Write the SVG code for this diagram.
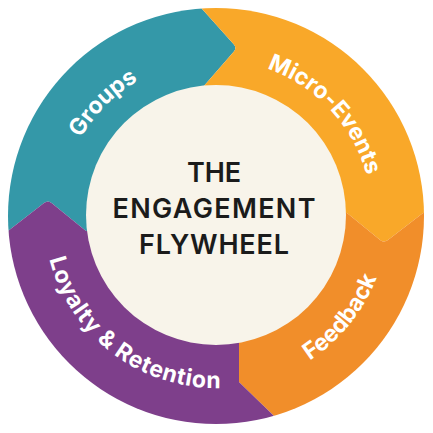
<svg xmlns="http://www.w3.org/2000/svg" xmlns:xlink="http://www.w3.org/1999/xlink" width="433" height="433" viewBox="0 0 433 433">
  <style>
    .seg-label { font-family: Inter, "Open Sans", "Liberation Sans", sans-serif; font-weight: 700; font-size: 23px; fill: #ffffff; }
    .title { font-family: Inter, "Open Sans", "Liberation Sans", sans-serif; font-weight: 600; font-size: 27px; fill: #1b1b1b; text-anchor: middle; }
  </style>
  <defs>
    <clipPath id="ring">
      <circle cx="216" cy="216" r="208"/>
    </clipPath>
    <path id="p-groups" d="M60,216 A156,156 0 0,1 216,60"/>
    <path id="p-micro" d="M221.4,60.1 A156,156 0 0,1 371.9,221.4"/>
    <path id="p-feedback" d="M234,387.1 A172,172 0 0,0 387.1,198"/>
    <path id="p-loyalty" d="M44.2,225 A172,172 0 0,0 254.7,383.6"/>
  </defs>
  <rect width="433" height="433" fill="#ffffff"/>
  <g clip-path="url(#ring)">
    <g id="groups">
      <path fill="#3498A8" d="M216,216 L86,231 L51.9,203.2 Q48,200 44,203.1 L8,231 L-10,231 L-10,-10 L190,-5 L203,10 L233.7,44.3 Q237,48 233.7,51.8 L203,87 Z"/>
    </g>
    <g id="micro-events">
      <path fill="#F9A829" d="M216,216 L203,87 L233.7,51.8 Q237,48 233.7,44.3 L203,10 L190,-5 L440,-10 L440,213 L423,213 L388,240 Q384,243 380.1,239.9 L347,213 Z"/>
    </g>
    <g id="feedback">
      <path fill="#F18E2A" d="M216,216 L347,213 L380.1,239.9 Q384,243 388,240 L423,213 L440,213 L440,440 L285,428 L273,415 L239,382 L239,343 Z"/>
    </g>
    <g id="loyalty">
      <path fill="#7E3F8B" d="M216,216 L239,343 L239,382 L273,415 L285,428 L-10,440 L-10,231 L8,231 L44,203.1 Q48,200 51.9,203.2 L86,231 Z"/>
    </g>
  </g>
  <g id="labels">
    <text class="seg-label"><textPath xlink:href="#p-groups" href="#p-groups" startOffset="50%" text-anchor="middle" textLength="82" lengthAdjust="spacing">Groups</textPath></text>
    <text class="seg-label"><textPath xlink:href="#p-micro" href="#p-micro" startOffset="50%" text-anchor="middle" textLength="152" lengthAdjust="spacing">Micro-Events</textPath></text>
    <text class="seg-label"><textPath xlink:href="#p-feedback" href="#p-feedback" startOffset="50%" text-anchor="middle" textLength="108" lengthAdjust="spacing">Feedback</textPath></text>
    <text class="seg-label"><textPath xlink:href="#p-loyalty" href="#p-loyalty" startOffset="50%" text-anchor="middle" textLength="231" lengthAdjust="spacing">Loyalty &amp; Retention</textPath></text>
  </g>
  <g id="center">
    <circle cx="216" cy="215" r="130" fill="#F8F4EA"/>
    <text class="title" x="214" y="182" textLength="54" lengthAdjust="spacing">THE</text>
    <text class="title" x="214" y="218" textLength="203" lengthAdjust="spacing">ENGAGEMENT</text>
    <text class="title" x="214" y="254" textLength="150" lengthAdjust="spacing">FLYWHEEL</text>
  </g>
</svg>
